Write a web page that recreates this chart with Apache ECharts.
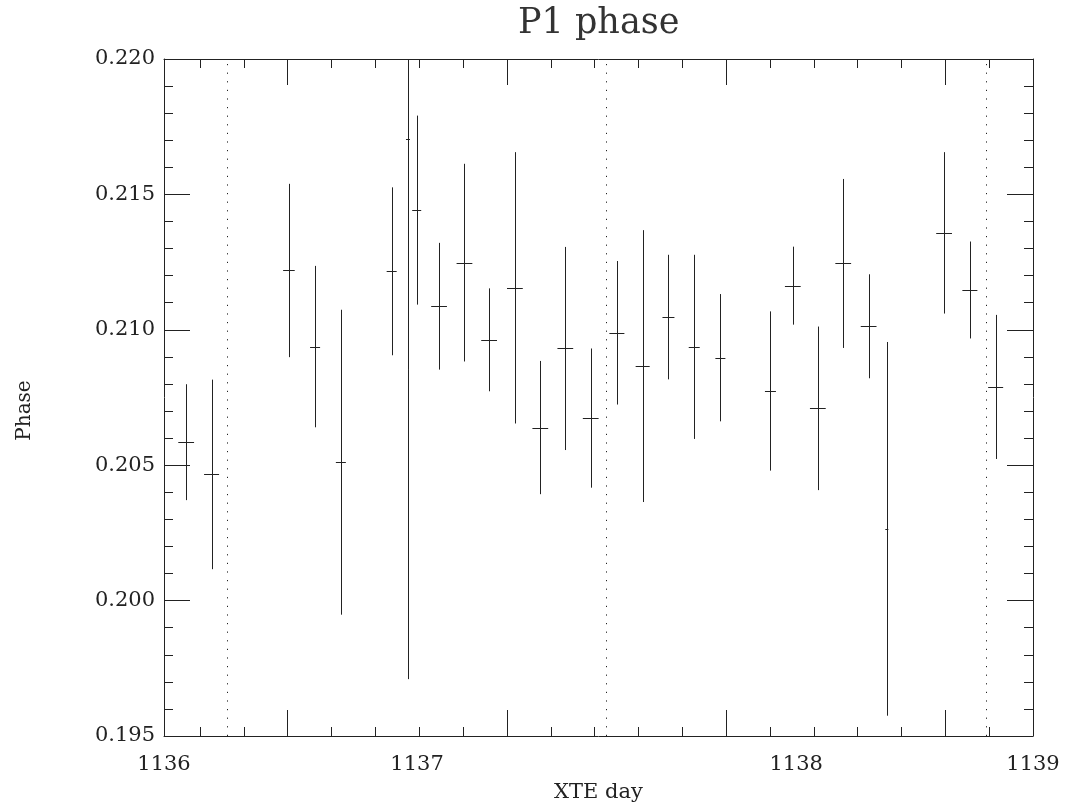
<!DOCTYPE html>
<html>
<head>
<meta charset="utf-8">
<script src="https://cdn.jsdelivr.net/npm/echarts@6/dist/echarts.min.js"></script>
<style>
  html, body { margin: 0; padding: 0; background: #fff; }
  #chart { width: 1068px; height: 808px; }
</style>
</head>
<body>
<div id="chart"></div>
<script>
// ---- data (XTE day, 1-hour bins) ----
const day = [1136.391, 1136.458, 1136.662, 1136.731, 1136.799, 1136.933, 1136.976, 1136.999,
             1137.058, 1137.125, 1137.190, 1137.258, 1137.325, 1137.391, 1137.458, 1137.527,
             1137.595, 1137.663, 1137.731, 1137.800, 1137.932, 1137.991, 1138.057, 1138.124,
             1138.191, 1138.239, 1138.390, 1138.458, 1138.526];
const dayErr = [0.0208, 0.0198, 0.0153, 0.0132, 0.0132, 0.0132, 0.0053, 0.0119,
                0.0208, 0.0208, 0.0208, 0.0208, 0.0208, 0.0208, 0.0208, 0.0198,
                0.0185, 0.0158, 0.0145, 0.0132, 0.0145, 0.0208, 0.0208, 0.0208,
                0.0208, 0.0040, 0.0208, 0.0198, 0.0198];
const phase = [0.20585, 0.20466, 0.21219, 0.20938, 0.20511, 0.21216, 0.21703, 0.21442,
               0.21087, 0.21248, 0.20963, 0.21155, 0.20639, 0.20931, 0.20674, 0.20989,
               0.20866, 0.21047, 0.20937, 0.20897, 0.20774, 0.21163, 0.20710, 0.21245,
               0.21013, 0.20265, 0.21358, 0.21147, 0.20789];
const phaseErr = [0.00214, 0.00350, 0.00320, 0.00298, 0.00563, 0.00310, 0.01993, 0.00349,
                  0.00234, 0.00365, 0.00190, 0.00501, 0.00246, 0.00375, 0.00257, 0.00265,
                  0.00502, 0.00230, 0.00340, 0.00235, 0.00294, 0.00144, 0.00302, 0.00312,
                  0.00192, 0.00690, 0.00298, 0.00179, 0.00266];
const dottedDays = [1136.5, 1137.5, 1138.5];
const xTickLabels = ['1136', '1137', '1138', '1139'];
const titleText = 'P1 phase';
const xName = 'XTE day';
const yName = 'Phase';

// ---- axis ranges / tick placement ----
const X_MIN = 1136.3325, X_MAX = 1138.6245;
const Y_MIN = 0.195, Y_MAX = 0.220, Y_STEP = 0.005;
const xLabelValues = [X_MIN, 1137, 1138, X_MAX];
const TICK0 = 1136.4274, TICK_STEP = 0.115646;
const minorX = [], majorX = [];
for (let k = 0; k <= 18; k++) {
  const v = +(TICK0 + k * TICK_STEP).toFixed(5);
  if (k % 5 === 2) majorX.push(v); else minorX.push(v);
}

const FONT = 'DejaVu Serif';
const INK = '#222';
const rows = day.map((d, i) => [d, phase[i], dayErr[i], phaseErr[i]]);

function xLabelFmt(v) {
  let best = 0, bd = Infinity;
  xLabelValues.forEach((lv, i) => { const dd = Math.abs(lv - v); if (dd < bd) { bd = dd; best = i; } });
  return xTickLabels[best];
}

// measure title so it is centered over the plot
const GRID = { left: 164, top: 59, right: 35, bottom: 72 };
const plotCenterX = GRID.left + (1068 - GRID.left - GRID.right) / 2;
const TITLE_SIZE = 35;
const ctx = document.createElement('canvas').getContext('2d');
ctx.font = TITLE_SIZE + 'px "' + FONT + '"';
const titleW = ctx.measureText(titleText).width;

const lineAxisCommon = { show: true, lineStyle: { color: INK, width: 1 } };

const chart = echarts.init(document.getElementById('chart'), null, { renderer: 'canvas' });
chart.setOption({
  backgroundColor: '#fff',
  animation: false,
  title: {
    text: titleText,
    left: Math.round(plotCenterX - titleW / 2),
    top: 6,
    padding: 0,
    textStyle: { fontFamily: FONT, fontSize: TITLE_SIZE, fontWeight: 'normal', color: '#333' }
  },
  grid: { left: GRID.left, top: GRID.top, right: GRID.right, bottom: GRID.bottom, containLabel: false },
  xAxis: [
    { // bottom, major ticks + labels
      type: 'value', position: 'bottom', min: X_MIN, max: X_MAX,
      axisLine: lineAxisCommon,
      axisTick: { show: true, inside: true, length: 26, customValues: majorX, lineStyle: { color: INK } },
      axisLabel: { show: true, customValues: xLabelValues, formatter: xLabelFmt, margin: 18,
                   fontFamily: FONT, fontSize: 21, color: INK, showMinLabel: true, showMaxLabel: true },
      splitLine: { show: false },
      name: xName, nameLocation: 'middle', nameGap: 46,
      nameTextStyle: { fontFamily: FONT, fontSize: 21, color: INK }
    },
    { // bottom minor ticks
      type: 'value', position: 'bottom', min: X_MIN, max: X_MAX,
      axisLine: { show: false },
      axisTick: { show: true, inside: true, length: 9, customValues: minorX, lineStyle: { color: INK } },
      axisLabel: { show: false }, splitLine: { show: false }
    },
    { // top major ticks
      type: 'value', position: 'top', min: X_MIN, max: X_MAX,
      axisLine: lineAxisCommon,
      axisTick: { show: true, inside: true, length: 26, customValues: majorX, lineStyle: { color: INK } },
      axisLabel: { show: false }, splitLine: { show: false }
    },
    { // top minor ticks
      type: 'value', position: 'top', min: X_MIN, max: X_MAX,
      axisLine: { show: false },
      axisTick: { show: true, inside: true, length: 9, customValues: minorX, lineStyle: { color: INK } },
      axisLabel: { show: false }, splitLine: { show: false }
    }
  ],
  yAxis: [
    {
      type: 'value', position: 'left', min: Y_MIN, max: Y_MAX, interval: Y_STEP,
      axisLine: lineAxisCommon,
      axisTick: { show: true, inside: true, length: 26, lineStyle: { color: INK } },
      minorTick: { show: true, splitNumber: 5, length: 9, lineStyle: { color: INK } },
      axisLabel: { show: true, margin: 9, formatter: v => v.toFixed(3),
                   fontFamily: FONT, fontSize: 21, color: INK, showMinLabel: true, showMaxLabel: true },
      splitLine: { show: false }, minorSplitLine: { show: false },
      name: yName, nameLocation: 'middle', nameGap: 129, nameRotate: 90,
      nameTextStyle: { fontFamily: FONT, fontSize: 20, color: INK, padding: [0, 26, 0, 0] }
    },
    {
      type: 'value', position: 'right', min: Y_MIN, max: Y_MAX, interval: Y_STEP,
      axisLine: lineAxisCommon,
      axisTick: { show: true, inside: true, length: 26, lineStyle: { color: INK } },
      minorTick: { show: true, splitNumber: 5, length: 9, lineStyle: { color: INK } },
      axisLabel: { show: false },
      splitLine: { show: false }, minorSplitLine: { show: false }
    }
  ],
  series: [
    {
      type: 'custom',
      xAxisIndex: 0, yAxisIndex: 0,
      data: rows,
      encode: { x: 0, y: 1 },
      renderItem: function (params, api) {
        const x = api.value(0), y = api.value(1), xe = api.value(2), ye = api.value(3);
        const c = api.coord([x, y]);
        const top = api.coord([x, Math.min(y + ye, Y_MAX)]);
        const bot = api.coord([x, Math.max(y - ye, Y_MIN)]);
        const l = api.coord([x - xe, y]);
        const r = api.coord([x + xe, y]);
        const cx = Math.round(c[0]) + 0.5, cy = Math.round(c[1]) + 0.5;
        const st = { stroke: INK, lineWidth: 1 };
        return {
          type: 'group',
          children: [
            { type: 'line', shape: { x1: cx, y1: top[1], x2: cx, y2: bot[1] }, style: st },
            { type: 'line', shape: { x1: l[0], y1: cy, x2: r[0], y2: cy }, style: st }
          ]
        };
      }
    },
    {
      type: 'line', xAxisIndex: 0, yAxisIndex: 0, data: [],
      markLine: {
        silent: true, symbol: ['none', 'none'], animation: false,
        label: { show: false },
        lineStyle: { color: INK, width: 1, type: [1.2, 7.4] },
        data: dottedDays.map(d => ({ xAxis: d }))
      }
    }
  ]
});
</script>
</body>
</html>
